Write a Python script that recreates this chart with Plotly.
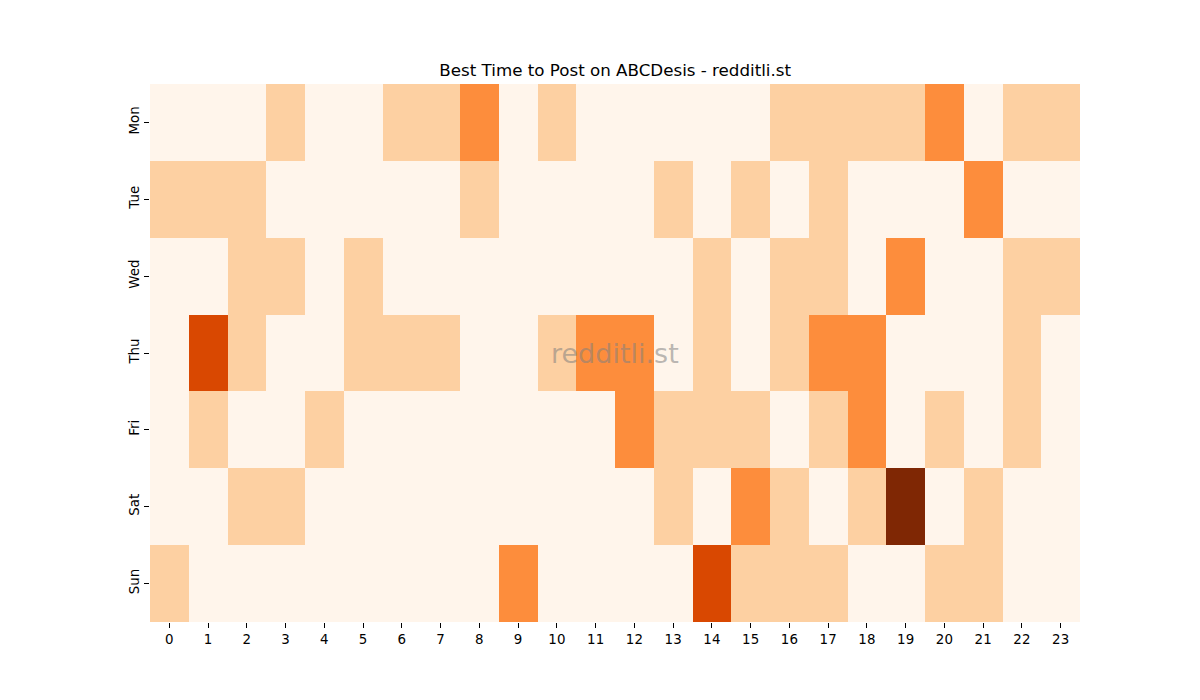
import plotly.graph_objects as go

# hour-of-day columns and weekday rows
hours = list(range(24))
days = ['Mon', 'Tue', 'Wed', 'Thu', 'Fri', 'Sat', 'Sun']

# activity score per day (0 = low ... 4 = best)
mon = [0, 0, 0, 1, 0, 0, 1, 1, 2, 0, 1, 0, 0, 0, 0, 0, 1, 1, 1, 1, 2, 0, 1, 1]
tue = [1, 1, 1, 0, 0, 0, 0, 0, 1, 0, 0, 0, 0, 1, 0, 1, 0, 1, 0, 0, 0, 2, 0, 0]
wed = [0, 0, 1, 1, 0, 1, 0, 0, 0, 0, 0, 0, 0, 0, 1, 0, 1, 1, 0, 2, 0, 0, 1, 1]
thu = [0, 3, 1, 0, 0, 1, 1, 1, 0, 0, 1, 2, 2, 0, 1, 0, 1, 2, 2, 0, 0, 0, 1, 0]
fri = [0, 1, 0, 0, 1, 0, 0, 0, 0, 0, 0, 0, 2, 1, 1, 1, 0, 1, 2, 0, 1, 0, 1, 0]
sat = [0, 0, 1, 1, 0, 0, 0, 0, 0, 0, 0, 0, 0, 1, 0, 2, 1, 0, 1, 4, 0, 1, 0, 0]
sun = [1, 0, 0, 0, 0, 0, 0, 0, 0, 2, 0, 0, 0, 0, 3, 1, 1, 1, 0, 0, 1, 1, 0, 0]

z = [mon, tue, wed, thu, fri, sat, sun]

# Oranges, sampled at the five levels
oranges = ['#fff5eb', '#fdd0a2', '#fd8d3c', '#d94801', '#7f2704']
colorscale = []
for i, c in enumerate(oranges):
    lo = max(i - 0.5, 0) / 4
    hi = min(i + 0.5, 4) / 4
    colorscale.append([lo, c])
    colorscale.append([hi, c])

fig = go.Figure(go.Heatmap(
    x=hours,
    y=days,
    z=z,
    zmin=0,
    zmax=4,
    colorscale=colorscale,
    showscale=False,
    hovertemplate='%{y} %{x}:00<br>score %{z}<extra></extra>',
))

fig.add_annotation(
    text='redditli.st', x=0.5, y=0.5, xref='paper', yref='paper',
    showarrow=False, font=dict(size=27, color='rgba(128,128,128,0.55)'),
)

fig.update_layout(
    width=1200,
    height=700,
    paper_bgcolor='white',
    plot_bgcolor='white',
    font=dict(family='DejaVu Sans', size=13.4, color='black'),
    margin=dict(l=142, r=128, t=76, b=86),
    title=dict(
        text='Best Time to Post on ABCDesis - redditli.st',
        x=0.506, xanchor='center', y=0.903, yanchor='bottom',
        font=dict(size=16.7),
    ),
    xaxis=dict(
        tickmode='array', tickvals=hours, ticktext=[str(h) for h in hours],
        ticks='outside', ticklen=5, tickcolor='black', showgrid=False,
        zeroline=False, showline=False, range=[-0.5, 23.5],
    ),
    yaxis=dict(
        autorange='reversed', ticks='outside', ticklen=5, tickcolor='black',
        tickangle=-90, showgrid=False, zeroline=False, showline=False,
    ),
)

fig.write_html('out.html')
